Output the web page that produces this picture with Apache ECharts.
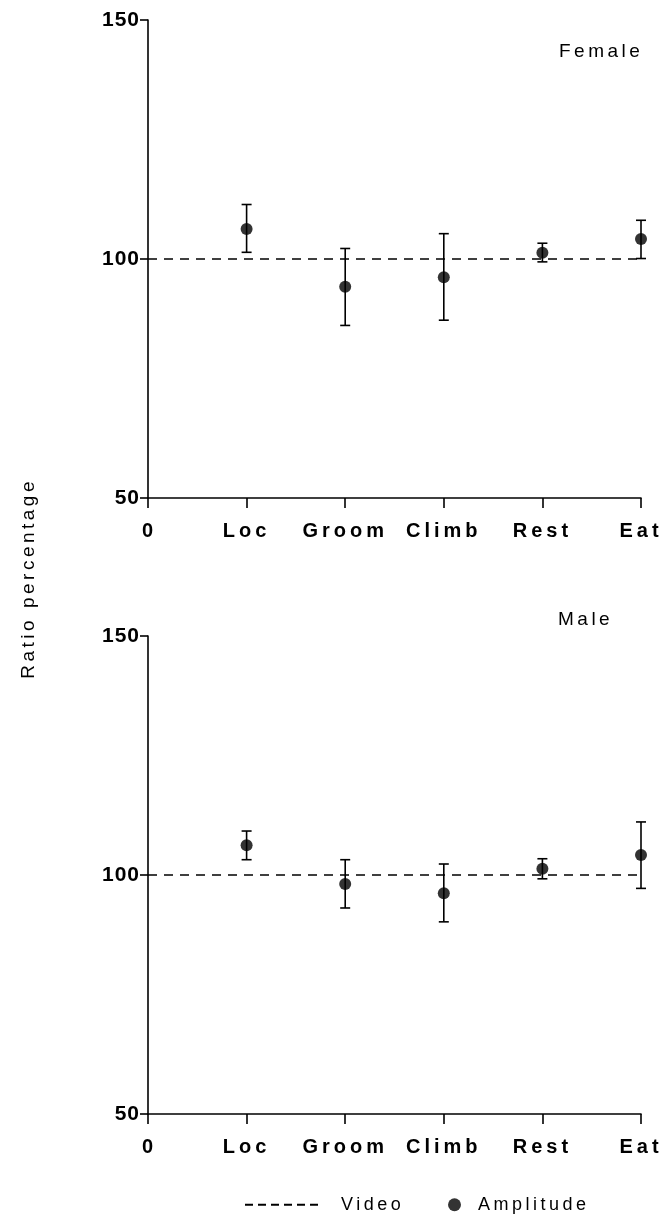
<!DOCTYPE html>
<html>
<head>
<meta charset="utf-8">
<script src="https://cdn.jsdelivr.net/npm/echarts@6/dist/echarts.min.js"></script>
<style>
html,body{margin:0;padding:0;background:#fff;}
#c{width:661px;height:1215px;}
</style>
</head>
<body>
<div id="c"></div>
<script>
// ---- data ----
var categories = ['0', 'Loc', 'Groom', 'Climb', 'Rest', 'Eat'];
var behaviours = ['Loc', 'Groom', 'Climb', 'Rest', 'Eat'];
var yTicks = [50, 100, 150];
var videoRatio = [100, 100, 100, 100, 100, 100];

var femaleMean = [106.3, 94.2, 96.2, 101.3, 104.2];
var femaleLow  = [101.4, 86.1, 87.2, 99.4, 100.1];
var femaleHigh = [111.4, 102.2, 105.3, 103.3, 108.1];

var maleMean = [106.2, 98.1, 96.2, 101.3, 104.2];
var maleLow  = [103.2, 93.1, 90.2, 99.2, 97.2];
var maleHigh = [109.2, 103.2, 102.3, 103.4, 111.1];

var panelTitles = ['Female', 'Male'];

// wide, letter-spaced typesetting of the original figure
(function () {
  var P = CanvasRenderingContext2D.prototype;
  if (!('letterSpacing' in P)) return;
  ['fillText', 'strokeText', 'measureText'].forEach(function (m) {
    var f = P[m];
    P[m] = function (txt) {
      var ls;
      if (/^[0-9]+$/.test(String(txt))) ls = '1px';
      else ls = /bold/.test(this.font) ? '4px' : '3.5px';
      if (this.letterSpacing !== ls) this.letterSpacing = ls;
      return f.apply(this, arguments);
    };
  });
})();

// ---- build ----
function pts(mean) {
  return behaviours.map(function (b, i) { return [b, mean[i]]; });
}
function errs(lo, hi) {
  return behaviours.map(function (b, i) { return [categories.indexOf(b), lo[i], hi[i]]; });
}
function renderErr(params, api) {
  var x = api.value(0);
  var lo = api.coord([x, api.value(1)]);
  var hi = api.coord([x, api.value(2)]);
  var w = 5;
  var st = { stroke: '#000', lineWidth: 1.6 };
  return {
    type: 'group',
    children: [
      { type: 'line', shape: { x1: lo[0], y1: lo[1], x2: hi[0], y2: hi[1] }, style: st },
      { type: 'line', shape: { x1: lo[0] - w, y1: lo[1], x2: lo[0] + w, y2: lo[1] }, style: st },
      { type: 'line', shape: { x1: hi[0] - w, y1: hi[1], x2: hi[0] + w, y2: hi[1] }, style: st }
    ]
  };
}

var FONT = '"Liberation Sans", Arial, sans-serif';
var gridTops = [20, 636];
var grids = [], xAxes = [], yAxes = [], series = [];
var means = [femaleMean, maleMean], lows = [femaleLow, maleLow], highs = [femaleHigh, maleHigh];

for (var g = 0; g < 2; g++) {
  grids.push({ left: 148, width: 493, top: gridTops[g], height: 478, outerBoundsMode: 'none', containLabel: false });
  xAxes.push({
    type: 'category', gridIndex: g, data: categories, boundaryGap: false,
    axisLine: { lineStyle: { color: '#000', width: 1.6 } },
    axisTick: { show: true, length: 10, interval: 0, lineStyle: { color: '#000', width: 1.6 } },
    axisLabel: { interval: 0, hideOverlap: false, color: '#000', fontWeight: 'bold', fontSize: 20, fontFamily: FONT, margin: 21 },
    splitLine: { show: false }
  });
  yAxes.push({
    type: 'value', gridIndex: g, min: yTicks[0], max: yTicks[yTicks.length - 1], interval: 50,
    axisLine: { show: true, lineStyle: { color: '#000', width: 1.6 } },
    axisTick: { show: true, length: 8, lineStyle: { color: '#000', width: 1.6 } },
    axisLabel: { color: '#000', fontWeight: 'bold', fontSize: 21, fontFamily: FONT, margin: 8 },
    splitLine: { show: false }
  });
  series.push({
    name: 'Video', type: 'line', xAxisIndex: g, yAxisIndex: g, data: videoRatio,
    symbol: 'none', lineStyle: { color: '#000', width: 1.6, type: [9, 7] }, itemStyle: { color: '#000' },
    silent: true, animation: false
  });
  series.push({
    name: 'err' + g, type: 'custom', xAxisIndex: g, yAxisIndex: g,
    data: errs(lows[g], highs[g]), renderItem: renderErr,
    encode: { x: 0, y: [1, 2] }, animation: false, z: 3
  });
  series.push({
    name: 'Amplitude', type: 'scatter', xAxisIndex: g, yAxisIndex: g,
    data: pts(means[g]), symbol: 'circle', symbolSize: 12,
    itemStyle: { color: '#000' }, animation: false, z: 4
  });
}

var dashIcon = 'path://M0,0h8v2h-8z M13,0h8v2h-8z M26,0h8v2h-8z M39,0h8v2h-8z M52,0h8v2h-8z M65,0h8v2h-8z';
var legendText = { fontSize: 18, fontFamily: FONT, color: '#000' };

var chart = echarts.init(document.getElementById('c'), null, { renderer: 'canvas' });
chart.setOption({
  backgroundColor: '#fff',
  animation: false,
  grid: grids,
  xAxis: xAxes,
  yAxis: yAxes,
  series: series,
  title: [
    { text: panelTitles[0], left: 554, top: 36, textStyle: { fontSize: 19, fontWeight: 'normal', fontFamily: FONT, color: '#000' } },
    { text: panelTitles[1], left: 553, top: 604, textStyle: { fontSize: 19, fontWeight: 'normal', fontFamily: FONT, color: '#000' } }
  ],
  legend: [{
    data: [{ name: 'Video', icon: dashIcon }], left: 240, top: 1189, itemWidth: 73, itemHeight: 2,
    textStyle: Object.assign({ padding: [0, 0, 0, 18] }, legendText), selectedMode: false
  }, {
    data: [{ name: 'Amplitude', icon: 'circle' }], left: 443, top: 1189, itemWidth: 13, itemHeight: 13,
    textStyle: Object.assign({ padding: [0, 0, 0, 12] }, legendText), selectedMode: false
  }],
  graphic: [{
    type: 'text', left: 18, top: 478, rotation: Math.PI / 2,
    style: { text: 'Ratio percentage', fontSize: 19, fontFamily: FONT, fill: '#000' }
  }]
});
</script>
</body>
</html>
